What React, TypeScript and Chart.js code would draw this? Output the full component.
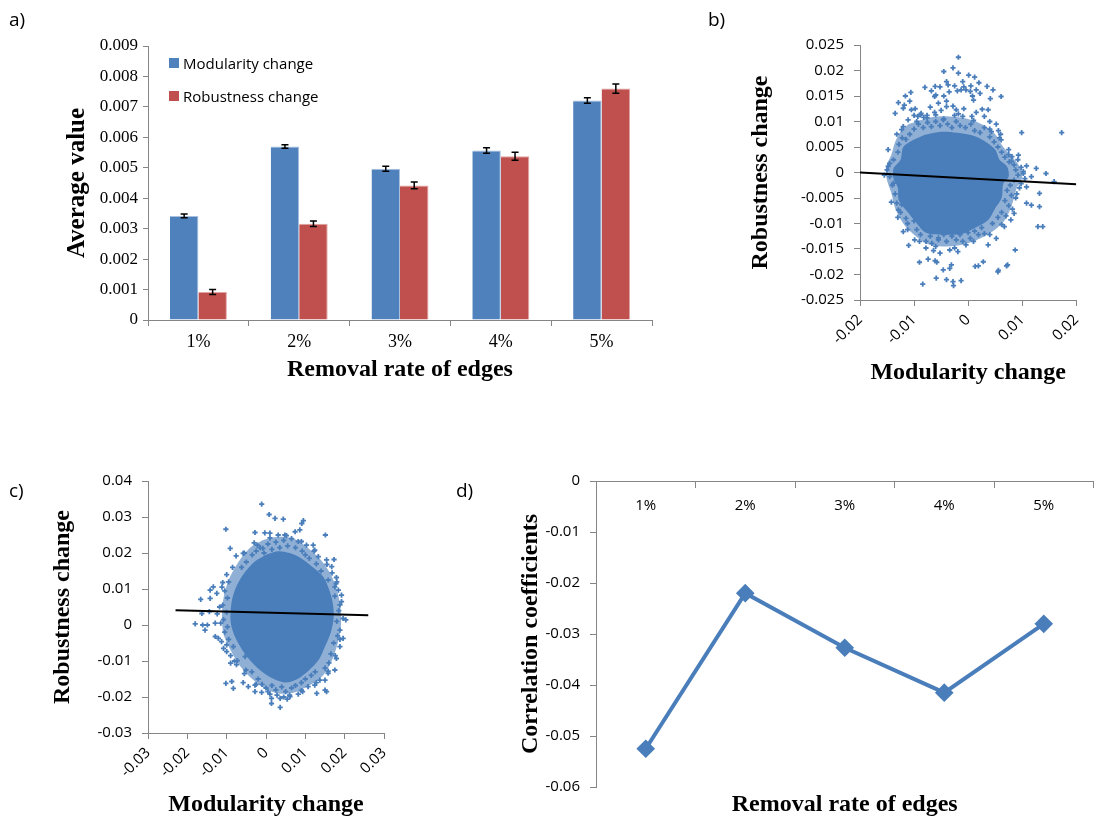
import React, { useEffect, useRef } from 'react';
import { Chart, registerables } from 'chart.js';
Chart.register(...registerables);

// ---------------- DATA ----------------
const rateLabels = ['1%', '2%', '3%', '4%', '5%'];
const modularityAvg = [0.00342, 0.0057, 0.00497, 0.00557, 0.00721];
const modularityErr = [0.00006, 0.00006, 0.00008, 0.00009, 0.00009];
const robustnessAvg = [0.00092, 0.00316, 0.00442, 0.00538, 0.0076];
const robustnessErr = [0.00008, 0.00009, 0.00011, 0.00013, 0.00015];
const correlation = [-0.0525, -0.022, -0.0327, -0.0415, -0.028];

const bTicksX = { min: -0.02, max: 0.02, step: 0.01 };
const bTicksY = { min: -0.025, max: 0.025, step: 0.005 };
const cTicksX = { min: -0.03, max: 0.03, step: 0.01 };
const cTicksY = { min: -0.03, max: 0.04, step: 0.01 };
const dTicksY = { min: -0.06, max: 0, step: 0.01 };

// panel b: outline of the solid core, outline of the medium-density halo, individual points
const coreB = [
  [-0.0080, 0.0074], [-0.0050, 0.0080], [-0.0020, 0.0078], [0.0010, 0.0072], [0.0030, 0.0062],
  [0.0050, 0.0045], [0.0058, 0.0025], [0.0072, 0.0012], [0.0075, -0.0008], [0.0065, -0.0022],
  [0.0062, -0.0050], [0.0050, -0.0070], [0.0037, -0.0093], [0.0010, -0.0110], [-0.0010, -0.0120],
  [-0.0040, -0.0122], [-0.0078, -0.0118], [-0.0095, -0.0100], [-0.0110, -0.0080], [-0.0128, -0.0055],
  [-0.0130, -0.0030], [-0.0138, -0.0012], [-0.0138, 0.0008], [-0.0125, 0.0025], [-0.0120, 0.0050],
  [-0.0105, 0.0062], [-0.0080, 0.0074],
];
const haloB = [
  [-0.0110, 0.0095], [-0.0070, 0.0108], [-0.0035, 0.0110], [0.0000, 0.0105], [0.0030, 0.0092],
  [0.0050, 0.0075], [0.0065, 0.0050], [0.0082, 0.0030], [0.0095, 0.0012], [0.0100, -0.0010],
  [0.0090, -0.0030], [0.0082, -0.0060], [0.0070, -0.0090], [0.0050, -0.0112], [0.0025, -0.0128],
  [-0.0005, -0.0140], [-0.0040, -0.0145], [-0.0075, -0.0140], [-0.0100, -0.0122], [-0.0120, -0.0100],
  [-0.0135, -0.0070], [-0.0142, -0.0040], [-0.0150, -0.0015], [-0.0152, 0.0010], [-0.0142, 0.0035],
  [-0.0135, 0.0060], [-0.0125, 0.0080], [-0.0110, 0.0095],
];
const pointsB = [
  [-0.0018, 0.0226], [-0.0045, 0.0198], [-0.0028, 0.0205], [-0.0018, 0.0195], [0.0001, 0.0191],
  [0.0012, 0.0187], [0.0020, 0.0176], [-0.0010, 0.0178], [-0.0040, 0.0178], [-0.0037, 0.0172],
  [-0.0061, 0.0169], [-0.0080, 0.0167], [-0.0013, 0.0162], [-0.0004, 0.0162], [0.0004, 0.0159],
  [0.0035, 0.0169], [0.0046, 0.0162], [0.0010, 0.0142], [0.0041, 0.0145], [0.0061, 0.0149],
  [-0.0106, 0.0157], [-0.0116, 0.0150], [-0.0129, 0.0137], [-0.0120, 0.0126], [-0.0135, 0.0116],
  [-0.0105, 0.0123], [-0.0087, 0.0116], [-0.0062, 0.0149], [-0.0055, 0.0136], [-0.0040, 0.0129],
  [-0.0022, 0.0123], [0.0026, 0.0124], [0.0037, 0.0123], [-0.0076, 0.0107], [-0.0046, 0.0103],
  [-0.0010, 0.0110], [0.0007, 0.0110], [-0.0123, 0.0084], [-0.0111, 0.0103], [0.0043, 0.0080],
  [0.0056, 0.0082], [0.0061, 0.0064], [0.0099, 0.0078], [0.0173, 0.0078],
  [0.0108, 0.0013], [0.0126, 0.0008], [0.0144, -0.0002], [0.0159, -0.0018], [0.0132, -0.0041],
  [0.0108, -0.0028], [0.0132, -0.0067], [0.0129, -0.0106], [0.0138, -0.0106], [0.0087, -0.0152],
  [0.0073, -0.0181], [0.0055, -0.0195], [0.0108, -0.0060], [0.0117, -0.0064], [0.0093, 0.0034],
  [0.0081, 0.0031], [0.0076, 0.0021], [0.0117, -0.0008], [0.0102, -0.0002],
  [-0.0084, -0.0219], [-0.0059, -0.0207], [-0.0040, -0.0210], [-0.0028, -0.0214], [-0.0013, -0.0212],
  [-0.0027, -0.0222], [-0.0090, -0.0176], [-0.0074, -0.0170], [-0.0061, -0.0173], [-0.0058, -0.0176],
  [-0.0046, -0.0191], [-0.0034, -0.0188], [-0.0031, -0.0181], [-0.0110, -0.0143], [-0.0120, -0.0116],
  [-0.0099, -0.0132], [-0.0078, -0.0135], [-0.0067, -0.0139], [-0.0055, -0.0132], [-0.0040, -0.0135],
  [-0.0022, -0.0132], [-0.0010, -0.0135], [-0.0004, -0.0142], [-0.0078, -0.0148], [-0.0064, -0.0153],
  [-0.0052, -0.0158], [-0.0034, -0.0152], [-0.0019, -0.0155], [0.0013, -0.0184], [0.0019, -0.0183],
  [0.0028, -0.0175], [0.0056, -0.0192], [0.0071, -0.0183], [0.0037, -0.0142], [0.0052, -0.0129],
  [0.0067, -0.0106], [0.0079, -0.0093], [0.0004, -0.0129], [0.0019, -0.0122], [-0.0129, -0.0073],
  [-0.0123, -0.0063], [-0.0138, -0.0021], [-0.0148, 0.0012], [-0.0145, 0.0018],
  [-0.0100, 0.0085], [-0.0092, 0.0095], [-0.0083, 0.0088], [-0.0075, 0.0098], [-0.0068, 0.0090],
  [-0.0060, 0.0100], [-0.0052, 0.0092], [-0.0045, 0.0105], [-0.0038, 0.0095], [-0.0030, 0.0088],
  [-0.0022, 0.0100], [-0.0015, 0.0092], [-0.0005, 0.0088], [0.0005, 0.0095], [0.0012, 0.0082],
  [0.0022, 0.0078], [0.0030, 0.0088], [-0.0108, 0.0075], [-0.0115, 0.0065], [0.0040, 0.0070],
  [0.0048, 0.0060], [0.0055, 0.0050],
  [-0.0100, 0.0112], [-0.0093, 0.0110], [-0.0088, 0.0113], [-0.0082, 0.0108], [-0.0076, 0.0112],
  [-0.0068, 0.0160], [-0.0060, 0.0152], [-0.0052, 0.0168], [-0.0045, 0.0150], [-0.0040, 0.0140],
  [-0.0035, 0.0158], [-0.0025, 0.0170], [-0.0020, 0.0160], [-0.0008, 0.0168], [0.0005, 0.0170],
  [0.0015, 0.0162], [0.0022, 0.0155], [0.0008, 0.0150],
  [-0.0118, 0.0132], [-0.0108, 0.0140], [-0.0098, 0.0125], [-0.0070, 0.0128], [-0.0062, 0.0118],
  [-0.0050, 0.0122], [-0.0028, 0.0130], [-0.0018, 0.0115], [-0.0008, 0.0125], [0.0015, 0.0118],
  [0.0030, 0.0110], [0.0040, 0.0100], [0.0052, 0.0095], [0.0060, 0.0075],
  [0.0062, 0.0040], [0.0068, 0.0030], [0.0075, 0.0035], [0.0080, 0.0022], [0.0085, 0.0015],
  [0.0088, 0.0005], [0.0092, -0.0005], [0.0085, -0.0015], [0.0078, -0.0025], [0.0072, -0.0035],
  [0.0080, -0.0045], [0.0068, -0.0055], [0.0075, -0.0065], [0.0062, -0.0078], [0.0070, -0.0085],
  [0.0098, 0.0010], [0.0105, -0.0012], [0.0095, -0.0030], [0.0088, -0.0050], [0.0082, -0.0072],
  [-0.0150, 0.0005], [-0.0145, -0.0008], [-0.0140, -0.0025], [-0.0135, -0.0042], [-0.0138, 0.0025],
  [-0.0130, 0.0040], [-0.0128, 0.0055], [-0.0132, -0.0060], [-0.0125, -0.0078], [-0.0115, -0.0090],
  [-0.0122, 0.0068], [-0.0112, -0.0100],
  [-0.0095, -0.0112], [-0.0088, -0.0122], [-0.0070, -0.0125], [-0.0055, -0.0128], [-0.0045, -0.0122],
  [-0.0030, -0.0125], [-0.0015, -0.0122], [0.0000, -0.0118], [0.0012, -0.0115], [0.0025, -0.0108],
  [0.0030, -0.0120], [0.0045, -0.0100], [0.0055, -0.0088], [-0.0100, -0.0095],
  [-0.0120, 0.0090], [-0.0095, 0.0100], [-0.0060, 0.0113], [-0.0025, 0.0112], [0.0010, 0.0102],
  [0.0040, 0.0085], [0.0058, 0.0068], [0.0075, 0.0045], [0.0092, 0.0025], [0.0102, 0.0002],
  [0.0098, -0.0022], [0.0090, -0.0042], [0.0085, -0.0080], [0.0062, -0.0102], [0.0040, -0.0122],
  [0.0010, -0.0135], [-0.0025, -0.0148], [-0.0060, -0.0145], [-0.0090, -0.0135], [-0.0112, -0.0112],
  [-0.0130, -0.0088], [-0.0142, -0.0058], [-0.0155, -0.0005], [-0.0148, 0.0045], [-0.0132, 0.0075],
];
const trendB = [[-0.02, 0.0], [0.02, -0.0023]];

// panel c
const coreC = [
  [0.0000, 0.0195], [0.0030, 0.0205], [0.0060, 0.0200], [0.0090, 0.0185], [0.0120, 0.0160],
  [0.0145, 0.0135], [0.0160, 0.0100], [0.0170, 0.0060], [0.0172, 0.0020], [0.0165, -0.0020],
  [0.0150, -0.0060], [0.0135, -0.0095], [0.0110, -0.0125], [0.0080, -0.0150], [0.0050, -0.0160],
  [0.0020, -0.0150], [-0.0010, -0.0130], [-0.0035, -0.0105], [-0.0060, -0.0070], [-0.0080, -0.0030],
  [-0.0090, 0.0010], [-0.0088, 0.0060], [-0.0078, 0.0100], [-0.0058, 0.0140], [-0.0030, 0.0175],
  [0.0000, 0.0195],
];
const haloC = [
  [-0.0010, 0.0235], [0.0030, 0.0245], [0.0070, 0.0240], [0.0105, 0.0215], [0.0140, 0.0180],
  [0.0165, 0.0140], [0.0182, 0.0090], [0.0190, 0.0040], [0.0190, -0.0010], [0.0180, -0.0060],
  [0.0165, -0.0105], [0.0145, -0.0140], [0.0110, -0.0168], [0.0070, -0.0188], [0.0030, -0.0190],
  [-0.0005, -0.0175], [-0.0035, -0.0150], [-0.0065, -0.0115], [-0.0090, -0.0070], [-0.0108, -0.0025],
  [-0.0112, 0.0025], [-0.0108, 0.0075], [-0.0095, 0.0125], [-0.0070, 0.0175], [-0.0040, 0.0215],
  [-0.0010, 0.0235],
];
const pointsC = [
  [-0.0011, 0.0336], [0.0008, 0.0307], [0.0023, 0.0296], [0.0044, 0.0294], [0.0095, 0.0290],
  [0.0091, 0.0282], [-0.0102, 0.0266], [-0.0028, 0.0257], [-0.0003, 0.0256], [0.0010, 0.0255],
  [0.0031, 0.0250], [0.0048, 0.0250], [0.0074, 0.0259], [0.0086, 0.0264], [0.0151, 0.0250],
  [-0.0091, 0.0213], [-0.0076, 0.0192], [-0.0058, 0.0199], [-0.0022, 0.0222], [-0.0008, 0.0213],
  [0.0103, 0.0222], [0.0120, 0.0222], [0.0124, 0.0208], [0.0133, 0.0190], [0.0154, 0.0181],
  [0.0173, 0.0182], [0.0179, 0.0132], [0.0167, 0.0162], [-0.0110, 0.0118], [-0.0134, 0.0106],
  [-0.0142, 0.0097], [-0.0166, 0.0071], [-0.0142, 0.0074], [-0.0125, 0.0088], [-0.0163, 0.0032],
  [-0.0144, 0.0037], [-0.0124, 0.0031], [-0.0180, 0.0003], [-0.0161, 0.0000], [-0.0149, 0.0000],
  [-0.0129, 0.0005], [-0.0155, -0.0014], [-0.0129, -0.0032], [-0.0121, -0.0037], [-0.0113, -0.0046],
  [-0.0108, -0.0065], [-0.0100, -0.0074], [-0.0083, -0.0060], [-0.0090, -0.0106], [-0.0073, -0.0099],
  [-0.0053, -0.0088], [-0.0051, -0.0125], [-0.0036, -0.0130], [-0.0102, -0.0162], [-0.0087, -0.0157],
  [-0.0083, -0.0176], [-0.0058, -0.0160], [-0.0045, -0.0171], [-0.0028, -0.0167], [-0.0028, -0.0185],
  [-0.0011, -0.0187], [0.0010, -0.0192], [0.0014, -0.0204], [0.0036, -0.0204], [0.0054, -0.0206],
  [0.0061, -0.0199], [0.0082, -0.0192], [0.0093, -0.0185], [0.0036, -0.0229], [0.0014, -0.0218],
  [0.0107, -0.0171], [0.0124, -0.0167], [0.0137, -0.0153], [0.0154, -0.0185], [0.0150, -0.0153],
  [0.0158, -0.0134], [0.0175, -0.0125], [0.0179, -0.0093], [0.0188, -0.0060], [0.0196, -0.0037],
  [0.0188, -0.0014], [0.0203, 0.0014], [0.0192, 0.0083], [0.0188, 0.0056], [0.0175, 0.0106],
  [0.0184, 0.0097], [0.0129, -0.0190], [0.0150, -0.0181],
  [-0.0035, 0.0195], [-0.0025, 0.0205], [-0.0015, 0.0215], [-0.0005, 0.0200], [0.0005, 0.0225],
  [0.0015, 0.0210], [0.0025, 0.0230], [0.0035, 0.0215], [0.0045, 0.0235], [0.0055, 0.0220],
  [0.0065, 0.0240], [0.0075, 0.0215], [0.0082, 0.0232], [0.0092, 0.0205], [0.0100, 0.0195],
  [0.0110, 0.0185], [-0.0050, 0.0175], [-0.0062, 0.0160], [0.0128, 0.0170], [0.0140, 0.0150],
  [-0.0100, 0.0140], [-0.0095, 0.0120], [-0.0105, 0.0095], [-0.0098, 0.0075], [-0.0110, 0.0055],
  [-0.0100, 0.0035], [-0.0108, 0.0015], [-0.0098, -0.0005], [-0.0105, -0.0020], [-0.0095, -0.0040],
  [-0.0090, -0.0085], [-0.0075, -0.0110],
  [0.0180, 0.0120], [0.0175, 0.0080], [0.0185, 0.0040], [0.0180, 0.0010], [0.0182, -0.0030],
  [0.0172, -0.0050], [0.0165, -0.0080], [0.0160, -0.0105], [0.0150, -0.0120], [0.0168, 0.0145],
  [0.0158, 0.0125],
  [-0.0020, -0.0150], [-0.0010, -0.0165], [0.0000, -0.0175], [0.0015, -0.0168], [0.0025, -0.0180],
  [0.0040, -0.0172], [0.0050, -0.0185], [0.0065, -0.0175], [0.0075, -0.0168], [0.0090, -0.0160],
  [0.0100, -0.0150], [0.0115, -0.0140], [0.0125, -0.0130], [0.0060, -0.0195], [0.0028, -0.0195],
  [-0.0030, 0.0228], [0.0010, 0.0242], [0.0052, 0.0248], [0.0090, 0.0232], [0.0122, 0.0205],
  [0.0155, 0.0168], [0.0178, 0.0115], [0.0192, 0.0065], [0.0196, 0.0018], [0.0188, -0.0040],
  [0.0176, -0.0085], [0.0158, -0.0128], [0.0128, -0.0160], [0.0090, -0.0182], [0.0045, -0.0200],
  [0.0005, -0.0185], [-0.0025, -0.0165], [-0.0055, -0.0135], [-0.0080, -0.0100], [-0.0100, -0.0055],
  [-0.0115, 0.0005], [-0.0118, 0.0050], [-0.0112, 0.0105], [-0.0085, 0.0160], [-0.0055, 0.0200],
];
const trendC = [[-0.023, 0.0041], [0.026, 0.0027]];

// ---------------- STYLE ----------------
const BLUE = '#4f81bd';
const RED = '#c0504d';
const DOT = '#4a7ebb';
const HALO = 'rgba(74,126,187,0.62)';
const AXIS = '#868686';
const SERIF = '"Liberation Serif", "Times New Roman", serif';
const SANS = '"Open Sans", "Noto Sans", sans-serif';
const titleFont = { family: SERIF, size: 24, weight: 'bold' as const, lineHeight: 1.2 };
const fmt = (v: any) => String(+Number(v).toFixed(3));
const toXY = (arr: number[][]) => arr.map(([x, y]) => ({ x, y }));

const errorBars = {
  id: 'errorBars',
  afterDatasetsDraw(chart: any) {
    const ctx = chart.ctx;
    const ys = chart.scales.y;
    chart.data.datasets.forEach((ds: any, di: number) => {
      const errs = ds.errors;
      if (!errs) return;
      const meta = chart.getDatasetMeta(di);
      meta.data.forEach((bar: any, i: number) => {
        const v = ds.data[i];
        const e = errs[i];
        const y1 = ys.getPixelForValue(v + e);
        const y2 = ys.getPixelForValue(v - e);
        ctx.save();
        ctx.strokeStyle = '#000';
        ctx.lineWidth = 1.5;
        ctx.beginPath();
        ctx.moveTo(bar.x, y1); ctx.lineTo(bar.x, y2);
        ctx.moveTo(bar.x - 3.5, y1); ctx.lineTo(bar.x + 3.5, y1);
        ctx.moveTo(bar.x - 3.5, y2); ctx.lineTo(bar.x + 3.5, y2);
        ctx.stroke();
        ctx.restore();
      });
    });
  },
};

const axisGrid = (len: number) => ({ drawOnChartArea: false, drawTicks: true, tickLength: len, color: AXIS, lineWidth: 1 });

function makeBar(): any {
  return {
    type: 'bar',
    data: {
      labels: rateLabels,
      datasets: [
        { label: 'Modularity change', data: modularityAvg, errors: modularityErr, backgroundColor: BLUE, borderColor: '#a9c0de', borderWidth: { top: 1, right: 1, left: 0, bottom: 0 }, categoryPercentage: 0.565, barPercentage: 1 },
        { label: 'Robustness change', data: robustnessAvg, errors: robustnessErr, backgroundColor: RED, borderColor: '#e0a3a1', borderWidth: { top: 1, right: 1, left: 0, bottom: 0 }, categoryPercentage: 0.565, barPercentage: 1 },
      ],
    },
    plugins: [errorBars],
    options: {
      responsive: false, animation: false, events: [],
      layout: { padding: { left: 63, top: 46, right: 28, bottom: 16 } },
      plugins: { legend: { display: false }, tooltip: { enabled: false } },
      scales: {
        x: {
          grid: { ...axisGrid(6), offset: true },
          border: { color: AXIS },
          ticks: { font: { family: SERIF, size: 18 }, color: '#000', padding: 5 },
          title: { display: true, text: 'Removal rate of edges', font: titleFont, color: '#000', padding: 0 },
          afterFit: (s: any) => { s.height = 64; },
        },
        y: {
          min: 0, max: 0.009,
          ticks: { stepSize: 0.001, callback: fmt, font: { family: SERIF, size: 17 }, color: '#000', padding: 5 },
          grid: axisGrid(5),
          border: { color: AXIS },
          title: { display: true, text: 'Average value', font: { ...titleFont, size: 25 }, color: '#000', padding: 0 },
          afterFit: (s: any) => { s.width = 85; },
        },
      },
    },
  };
}

function makeScatter(core: number[][], halo: number[][], pts: number[][], trend: number[][], tx: any, ty: any, pad: any, yW: number, xH: number): any {
  return {
    type: 'scatter',
    data: {
      datasets: [
        { type: 'line', order: 0, data: toXY(trend), borderColor: '#000', borderWidth: 2, pointRadius: 0, fill: false, tension: 0 },
        { type: 'scatter', order: 1, data: toXY(pts), pointStyle: 'cross', pointRadius: 2.6, borderWidth: 1.8, borderColor: DOT, backgroundColor: DOT },
        { type: 'line', order: 2, data: toXY(core), borderWidth: 0, borderColor: DOT, backgroundColor: DOT, pointRadius: 0, fill: 'shape', tension: 0.3 },
        { type: 'line', order: 3, data: toXY(halo), borderWidth: 0, borderColor: HALO, backgroundColor: HALO, pointRadius: 0, fill: 'shape', tension: 0.3 },
      ],
    },
    options: {
      responsive: false, animation: false, events: [],
      layout: { padding: pad },
      plugins: { legend: { display: false }, tooltip: { enabled: false } },
      scales: {
        x: {
          type: 'linear', min: tx.min, max: tx.max,
          ticks: { stepSize: tx.step, callback: fmt, font: { family: SANS, size: 15 }, color: '#000', maxRotation: 45, minRotation: 45, padding: 5 },
          grid: axisGrid(6),
          border: { color: AXIS },
          title: { display: true, text: 'Modularity change', font: titleFont, color: '#000', padding: 0 },
          afterFit: (s: any) => { s.height = xH; },
        },
        y: {
          type: 'linear', min: ty.min, max: ty.max,
          ticks: { stepSize: ty.step, callback: fmt, font: { family: SANS, size: 15 }, color: '#000', padding: 10 },
          grid: axisGrid(6),
          border: { color: AXIS },
          title: { display: true, text: 'Robustness change', font: titleFont, color: '#000', padding: 0 },
          afterFit: (s: any) => { s.width = yW; },
        },
      },
    },
  };
}

function makeLine(): any {
  return {
    type: 'line',
    data: {
      labels: rateLabels,
      datasets: [
        { data: correlation, borderColor: DOT, backgroundColor: DOT, borderWidth: 4, pointStyle: 'rectRot', pointRadius: 6.5, pointBackgroundColor: DOT, pointBorderColor: DOT, tension: 0, xAxisID: 'x', yAxisID: 'y' },
      ],
    },
    options: {
      responsive: false, animation: false, events: [],
      layout: { padding: { left: 76, top: 41, right: 5, bottom: 1 } },
      plugins: { legend: { display: false }, tooltip: { enabled: false } },
      scales: {
        x: {
          type: 'category', position: { y: 0 }, offset: true,
          grid: { ...axisGrid(6), offset: true },
          border: { color: AXIS },
          ticks: { font: { family: SANS, size: 15 }, color: '#000', padding: 10 },
        },
        x2: {
          type: 'category', position: 'bottom', labels: rateLabels,
          grid: { display: false }, border: { display: false },
          ticks: { display: false },
          title: { display: true, text: 'Removal rate of edges', font: titleFont, color: '#000', padding: 0 },
          afterFit: (s: any) => { s.height = 32; },
        },
        y: {
          min: dTicksY.min, max: dTicksY.max,
          ticks: { stepSize: dTicksY.step, callback: fmt, font: { family: SANS, size: 15 }, color: '#000', padding: 10 },
          grid: axisGrid(6),
          border: { color: AXIS },
          title: { display: true, text: 'Correlation coefficients', font: titleFont, color: '#000', padding: 0 },
          afterFit: (s: any) => { s.width = 80; },
        },
      },
    },
  };
}

function ChartBox({ left, top, width, height, make }: any) {
  const ref = useRef<HTMLCanvasElement | null>(null);
  useEffect(() => {
    const c = new Chart(ref.current as HTMLCanvasElement, make());
    return () => c.destroy();
  }, []);
  return (
    <canvas ref={ref} width={width} height={height}
      style={{ position: 'absolute', left, top, width, height }} />
  );
}

const panelLabel = (text: string, left: number, top: number) => (
  <div style={{ position: 'absolute', left, top, fontFamily: SANS, fontSize: 19, lineHeight: '24px', color: '#000' }}>{text}</div>
);

export default function App() {
  return (
    <div style={{ position: 'absolute', left: 0, top: 0, width: 1094, height: 820, overflow: 'hidden', background: '#fff' }}>
      <ChartBox left={0} top={0} width={680} height={400} make={makeBar} />
      <ChartBox left={700} top={0} width={394} height={400}
        make={() => makeScatter(coreB, haloB, pointsB, trendB, bTicksX, bTicksY, { left: 46, top: 45, right: 9, bottom: 13 }, 114, 87)} />
      <ChartBox left={0} top={440} width={420} height={380}
        make={() => makeScatter(coreC, haloC, pointsC, trendC, cTicksX, cTicksY, { left: 48, top: 41, right: 36, bottom: 1 }, 100, 86)} />
      <ChartBox left={440} top={440} width={664} height={380} make={makeLine} />
      {panelLabel('a)', 9, 7)}
      {panelLabel('b)', 708, 7)}
      {panelLabel('c)', 9, 478)}
      {panelLabel('d)', 456, 478)}
      <div style={{ position: 'absolute', left: 169, top: 58, width: 10, height: 10, background: BLUE }} />
      <div style={{ position: 'absolute', left: 183, top: 52, fontFamily: SANS, fontSize: 15, lineHeight: '22px', color: '#000' }}>Modularity change</div>
      <div style={{ position: 'absolute', left: 169, top: 91, width: 10, height: 10, background: RED }} />
      <div style={{ position: 'absolute', left: 183, top: 85, fontFamily: SANS, fontSize: 15, lineHeight: '22px', color: '#000' }}>Robustness change</div>
    </div>
  );
}
